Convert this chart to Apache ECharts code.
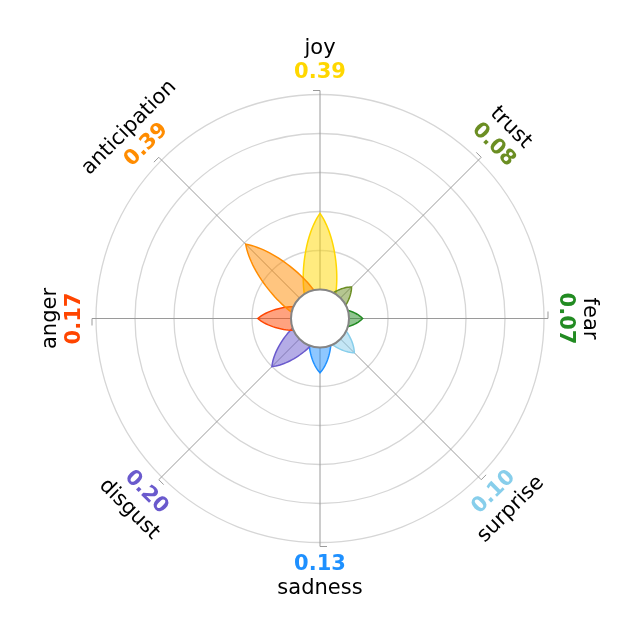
<!DOCTYPE html>
<html>
<head>
<meta charset="utf-8">
<script src="https://cdn.jsdelivr.net/npm/echarts@6/dist/echarts.min.js"></script>
<style>
  html, body { margin: 0; padding: 0; background: #fff; }
  #wheel { width: 640px; height: 636px; }
</style>
</head>
<body>
<div id="wheel"></div>
<script>
// emotion wheel data
var emotions = ['joy', 'trust', 'fear', 'surprise', 'sadness', 'disgust', 'anger', 'anticipation'];
var scores = [0.39, 0.08, 0.07, 0.10, 0.13, 0.20, 0.17, 0.39];
var angles = [0, 45, 90, 135, 180, 225, 270, 315];
var colors = ['#FFD700', '#6B8E23', '#228B22', '#87CEEB', '#1E90FF', '#6A5ACD', '#FF4500', '#FF8C00'];

var INNER = 29, OUTER = 224;
var OFFSET = INNER / (OUTER - INNER);   // radius of the white hole, in score units
var SPOKE = 1.0205;                     // spokes run a little past the outer ring
var VALUE_R = 1.111, NAME_R = 1.235;
var FONT = 'DejaVu Sans';

function rgba(hex, a) {
  var n = parseInt(hex.slice(1), 16);
  return 'rgba(' + (n >> 16 & 255) + ',' + (n >> 8 & 255) + ',' + (n & 255) + ',' + a + ')';
}

// point at distance d along the spoke and x to the side, back to polar values
function toPolar(d, x, ang) {
  return [Math.sqrt(d * d + x * x) - OFFSET, ang + Math.atan2(x, d) * 180 / Math.PI];
}

function renderPetal(params, api) {
  var i = params.dataIndex;
  var L = api.value(0) + OFFSET;
  var ang = api.value(1);
  var c = 0.034 + 0.15 * L, beta = 0.7, N = 40;
  var pts = [], k, s, d, x;
  for (k = 0; k <= N; k++) {
    s = k / N;
    d = L * (3 * (1 - s) * s * s * beta + s * s * s);
    x = 3 * s * (1 - s) * c;
    pts.push(api.coord(toPolar(d, x, ang)));
  }
  for (k = N - 1; k >= 0; k--) {
    s = k / N;
    d = L * (3 * (1 - s) * s * s * beta + s * s * s);
    x = -3 * s * (1 - s) * c;
    pts.push(api.coord(toPolar(d, x, ang)));
  }
  return {
    type: 'polygon',
    shape: { points: pts },
    style: { fill: rgba(colors[i], 0.5), stroke: colors[i], lineWidth: 1.5 }
  };
}

function renderSpoke(params, api) {
  var ang = api.value(0);
  var p0 = api.coord([-OFFSET, ang]);
  var p1 = api.coord([SPOKE, ang]);
  var p2 = api.coord(toPolar(SPOKE + OFFSET, -7 / (OUTER - INNER), ang));
  return {
    type: 'polyline',
    shape: { points: [p0, p1, p2] },
    style: { stroke: '#9a9a9a', lineWidth: 1, fill: null }
  };
}

function renderHole(params, api) {
  var c = api.coord([-OFFSET, 0]);
  var e = api.coord([0, 0]);
  var r = Math.sqrt((e[0] - c[0]) * (e[0] - c[0]) + (e[1] - c[1]) * (e[1] - c[1]));
  return {
    type: 'circle',
    shape: { cx: c[0], cy: c[1], r: r },
    style: { fill: '#fff', stroke: '#858585', lineWidth: 2 }
  };
}

function renderLabel(params, api) {
  var i = params.dataIndex;
  var ang = api.value(1);
  var cw = ang <= 90 ? ang : (ang < 270 ? ang - 180 : ang - 360);
  var rot = -cw * Math.PI / 180;
  var pv = api.coord([VALUE_R, ang]);
  var pn = api.coord([NAME_R, ang]);
  return {
    type: 'group',
    children: [{
      type: 'text', x: pv[0], y: pv[1], rotation: rot,
      style: {
        text: api.value(0).toFixed(2), fill: colors[i], fontFamily: FONT,
        fontSize: 21, fontWeight: 'bold', align: 'center', verticalAlign: 'middle'
      }
    }, {
      type: 'text', x: pn[0], y: pn[1], rotation: rot,
      style: {
        text: emotions[i], fill: '#000', fontFamily: FONT,
        fontSize: 21, align: 'center', verticalAlign: 'middle'
      }
    }]
  };
}

var chart = echarts.init(document.getElementById('wheel'));
var petalData = scores.map(function (v, i) { return [v, angles[i]]; });

chart.setOption({
  animation: false,
  polar: { center: [320, 318.5], radius: [INNER, OUTER] },
  angleAxis: {
    type: 'value', min: 0, max: 360, startAngle: 90, clockwise: true,
    axisLine: { show: false }, axisTick: { show: false },
    axisLabel: { show: false }, splitLine: { show: false }
  },
  radiusAxis: {
    type: 'value', min: 0, max: 1, interval: 0.2,
    axisLine: { show: false }, axisTick: { show: false }, axisLabel: { show: false },
    splitLine: { show: true, lineStyle: { color: '#d6d6d6', width: 1.3 } }
  },
  series: [
    { type: 'custom', coordinateSystem: 'polar', z: 2, silent: true,
      data: angles.map(function (a) { return [a]; }), renderItem: renderSpoke },
    { type: 'custom', coordinateSystem: 'polar', z: 3, silent: true,
      data: petalData, renderItem: renderPetal },
    { type: 'custom', coordinateSystem: 'polar', z: 4, silent: true,
      data: [[0]], renderItem: renderHole },
    { type: 'custom', coordinateSystem: 'polar', z: 5, silent: true,
      data: petalData, renderItem: renderLabel }
  ]
});
</script>
</body>
</html>
